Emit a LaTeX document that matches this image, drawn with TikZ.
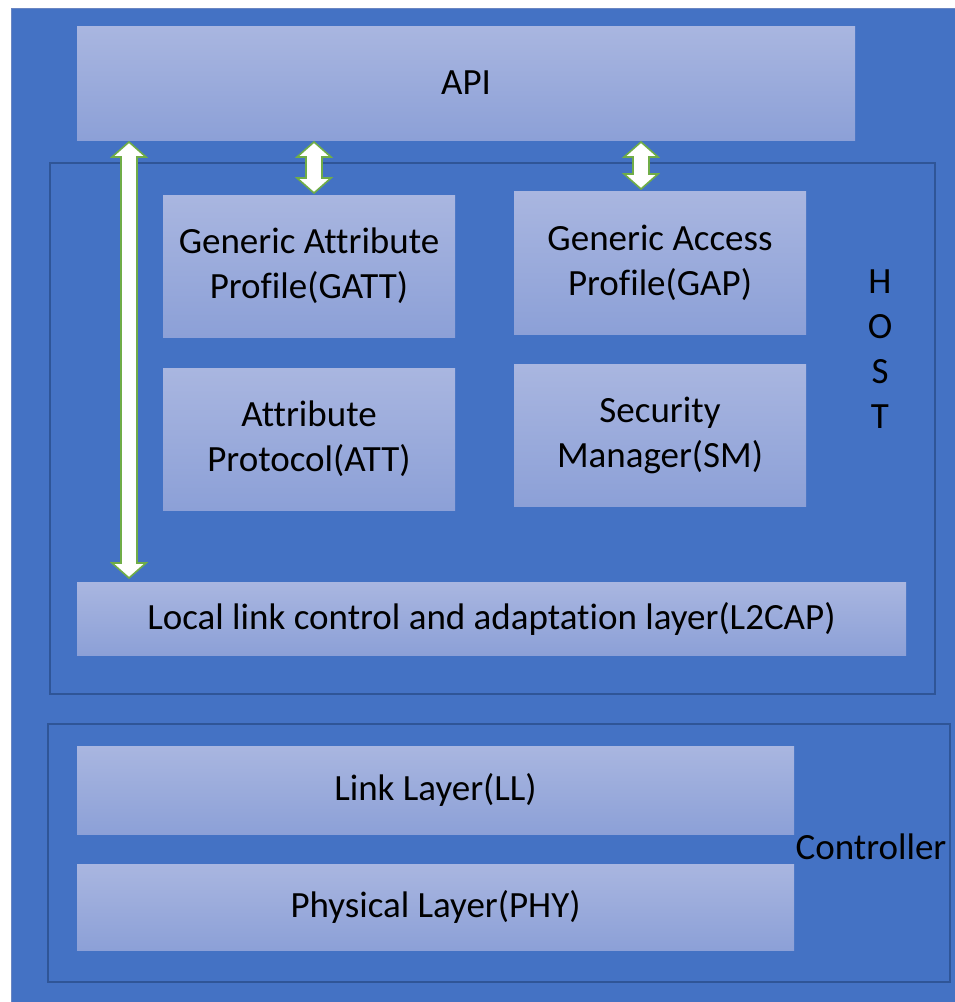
\documentclass[tikz,border=0pt]{standalone}
\usepackage{fontspec}
\setmainfont{Carlito}[Ligatures={NoCommon}]
\usetikzlibrary{calc}
\definecolor{bgblue}{HTML}{4472C4}
\definecolor{bgedge}{HTML}{6A86C2}
\definecolor{frameblue}{HTML}{2F5597}
\definecolor{boxtop}{HTML}{A9B6E0}
\definecolor{boxbot}{HTML}{8CA0D7}
\definecolor{arrowgreen}{HTML}{70AD47}
\newcommand{\myDblArrow}[2]{%
  \draw[dblarr] let \p1=#1, \p2=#2 in
    (\x1,\y1) -- (\x1+17pt,\y1-15pt) -- (\x1+8pt,\y1-15pt) -- (\x1+8pt,\y2+15pt)
    -- (\x1+17pt,\y2+15pt) -- (\x1,\y2) -- (\x1-17pt,\y2+15pt) -- (\x1-8pt,\y2+15pt)
    -- (\x1-8pt,\y1-15pt) -- (\x1-17pt,\y1-15pt) -- cycle;}
\begin{document}
\begin{tikzpicture}[x=1pt,y=-1pt,
  layer/.style={rectangle, anchor=north west, inner sep=0pt, outer sep=0pt,
    top color=boxtop, bottom color=boxbot, text=black, align=center,
    font=\fontsize{37}{45}\selectfont},
  frame/.style={rectangle, anchor=north west, inner sep=0pt, outer sep=0pt,
    draw=frameblue, line width=1.2pt},
  lbl/.style={text=black, align=center, inner sep=0pt, font=\fontsize{37}{45}\selectfont},
  dblarr/.style={fill=white, draw=arrowgreen, line width=1.6pt, line join=miter}]
\useasboundingbox (0,0) rectangle (955,1002);
\fill[white] (0,0) rectangle (955,1002);
\node[rectangle, anchor=north west, inner sep=0pt, fill=bgblue, draw=bgedge, line width=1pt,
  minimum width=960pt, minimum height=1010pt] (bg) at (11,8) {};

% frames
\node[frame, minimum width=885pt, minimum height=531pt] (host) at (50,163) {};
\node[frame, minimum width=902pt, minimum height=258pt] (ctrl) at (48,724) {};

% layers
\node[layer, minimum width=778pt, minimum height=114pt] (api) at (77,26) {API};
\node[layer, minimum width=292pt, minimum height=142pt] (gatt) at (163,195) {Generic Attribute\\Profile(GATT)};
\node[layer, minimum width=292pt, minimum height=143pt] (gap) at (514,191) {Generic Access\\Profile(GAP)};
\node[layer, minimum width=292pt, minimum height=142pt] (att) at (163,368) {Attribute\\Protocol(ATT)};
\node[layer, minimum width=292pt, minimum height=142pt] (sm) at (514,364) {Security\\Manager(SM)};
\node[layer, minimum width=829pt, minimum height=73pt] (l2cap) at (77,582) {Local link control and adaptation layer(L2CAP)};
\node[layer, minimum width=717pt, minimum height=88pt] (ll) at (77,746) {Link Layer(LL)};
\node[layer, minimum width=717pt, minimum height=86pt] (phy) at (77,864) {Physical Layer(PHY)};

% labels
\node[lbl] (hostlbl) at (880,349) {H\\O\\S\\T};
\node[lbl] (ctrllbl) at (871,847) {Controller};

% arrows
\coordinate (a1t) at ($(api.south west)+(52,2)$);
\coordinate (a1b) at ($(l2cap.north west)+(52,-4)$);
\coordinate (a2t) at ($(api.south west)+(237,2)$);
\coordinate (a2b) at ($(gatt.north west)+(151,-2)$);
\coordinate (a3t) at ($(api.south west)+(564,2)$);
\coordinate (a3b) at ($(gap.north west)+(127,-2)$);
\myDblArrow{(a1t)}{(a1b)}
\myDblArrow{(a2t)}{(a2b)}
\myDblArrow{(a3t)}{(a3b)}
\end{tikzpicture}
\end{document}
